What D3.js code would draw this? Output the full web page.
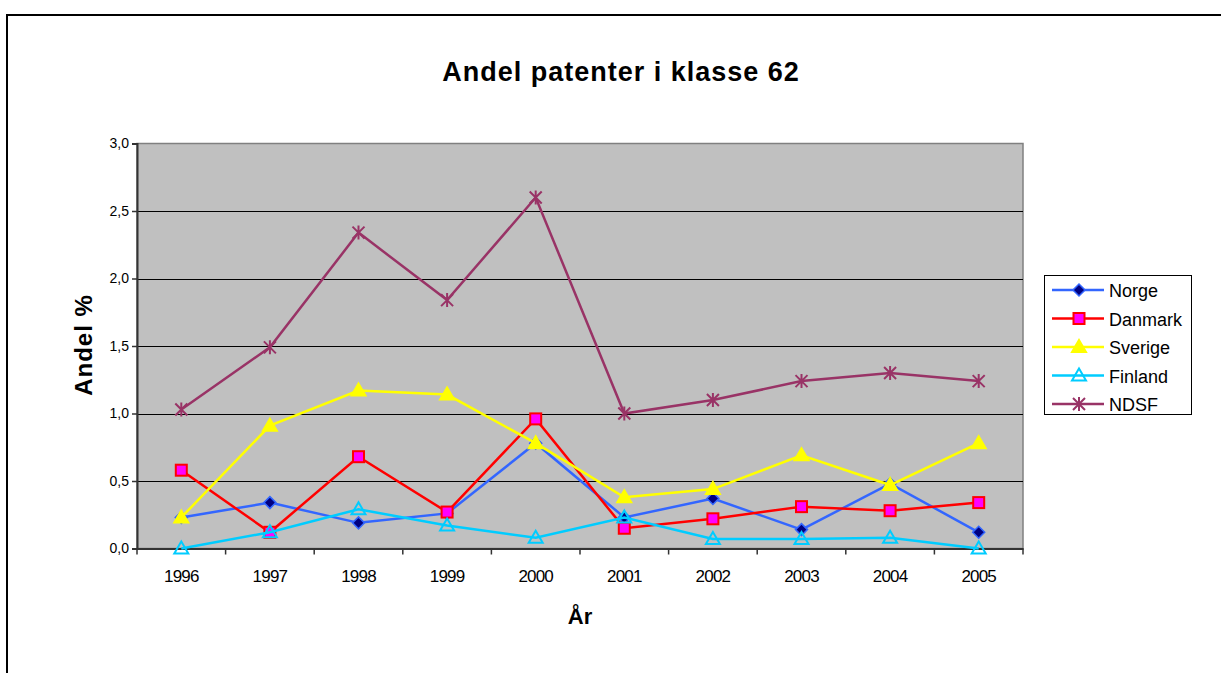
<!DOCTYPE html>
<html lang="no">
<head>
<meta charset="UTF-8">
<script src="https://d3js.org/d3.v7.min.js"></script>
<style>
  body { margin: 0; background: #fff; font-family: Arial, "Liberation Sans", sans-serif; }
  svg { display: block; }
</style>
</head>
<body>
<svg width="1221" height="673"></svg>
<script>
const years = ["1996","1997","1998","1999","2000","2001","2002","2003","2004","2005"];
const norge   = [0.23, 0.34, 0.19, 0.26, 0.78, 0.23, 0.37, 0.14, 0.48, 0.12];
const danmark = [0.58, 0.12, 0.68, 0.27, 0.96, 0.15, 0.22, 0.31, 0.28, 0.34];
const sverige = [0.23, 0.91, 1.17, 1.14, 0.78, 0.38, 0.44, 0.69, 0.47, 0.78];
const finland = [0.00, 0.12, 0.29, 0.17, 0.08, 0.23, 0.07, 0.07, 0.08, 0.00];
const ndsf    = [1.03, 1.49, 2.34, 1.84, 2.60, 1.00, 1.10, 1.24, 1.30, 1.24];
const yTicks  = [0, 0.5, 1.0, 1.5, 2.0, 2.5, 3.0];

const series = [
  { name: "Norge",   values: norge,   line: "#3366FF", marker: "diamond",  fill: "#000080", stroke: "#3366FF" },
  { name: "Danmark", values: danmark, line: "#FF0000", marker: "square",   fill: "#FF00FF", stroke: "#FF0000" },
  { name: "Sverige", values: sverige, line: "#FFFF00", marker: "triangle", fill: "#FFFF00", stroke: "#FFFF00" },
  { name: "Finland", values: finland, line: "#00CCFF", marker: "triangle", fill: "none",    stroke: "#00CCFF" },
  { name: "NDSF",    values: ndsf,    line: "#993366", marker: "star",     fill: "none",    stroke: "#993366" }
];

const svg = d3.select("svg");

// outer chart frame
svg.append("rect").attr("x", 7).attr("y", 15).attr("width", 1300).attr("height", 700)
  .attr("fill", "none").attr("stroke", "#000").attr("stroke-width", 2);

const plot = { left: 137, top: 143.5, right: 1023, bottom: 548.5 };

const x = d3.scaleBand().domain(years).range([plot.left, plot.right]);
const y = d3.scaleLinear().domain([0, 3]).range([plot.bottom, plot.top]);

svg.append("rect")
  .attr("x", plot.left).attr("y", plot.top)
  .attr("width", plot.right - plot.left).attr("height", plot.bottom - plot.top)
  .attr("fill", "#C0C0C0").attr("stroke", "#808080").attr("stroke-width", 1.5);

// gridlines
svg.append("g").selectAll("line").data(yTicks.filter(d => d > 0 && d < 3)).join("line")
  .attr("x1", plot.left).attr("x2", plot.right)
  .attr("y1", d => Math.round(y(d)) + 0.5).attr("y2", d => Math.round(y(d)) + 0.5)
  .attr("stroke", "#000").attr("stroke-width", 1);

// y axis
const yAxis = svg.append("g").attr("transform", `translate(${plot.left},0)`)
  .call(d3.axisLeft(y).tickValues(yTicks).tickSize(5).tickPadding(3)
    .tickFormat(d => d3.format(".1f")(d).replace(".", ",")));
yAxis.select(".domain").attr("stroke", "#333").attr("stroke-width", 2);
yAxis.selectAll(".tick line").attr("stroke", "#333").attr("stroke-width", 1.5);
yAxis.selectAll("text").attr("font-size", 14).attr("font-family", "Arial, sans-serif").attr("fill", "#000");

// x axis
const xAxis = svg.append("g").attr("transform", `translate(0,${plot.bottom})`)
  .call(d3.axisBottom(x).tickSize(0).tickPadding(21));
xAxis.select(".domain").attr("stroke", "#333").attr("stroke-width", 2);
xAxis.selectAll("text").attr("font-size", 17).attr("letter-spacing", "-0.8px")
  .attr("font-family", "Arial, sans-serif").attr("fill", "#000");
svg.append("g").selectAll("line").data(years.concat(["end"])).join("line")
  .attr("x1", (d, i) => plot.left + i * x.step()).attr("x2", (d, i) => plot.left + i * x.step())
  .attr("y1", plot.bottom).attr("y2", plot.bottom + 6)
  .attr("stroke", "#333").attr("stroke-width", 1.5);

// titles
svg.append("text").attr("x", 621).attr("y", 81).attr("text-anchor", "middle")
  .attr("font-size", 27).attr("font-weight", "bold").attr("letter-spacing", "1px")
  .text("Andel patenter i klasse 62");
svg.append("text").attr("x", 580).attr("y", 624).attr("text-anchor", "middle")
  .attr("font-size", 22).attr("font-weight", "bold").text("År");
svg.append("text").attr("transform", "translate(92,345) rotate(-90)").attr("text-anchor", "middle")
  .attr("font-size", 24).attr("font-weight", "bold").attr("letter-spacing", "1px").text("Andel %");

function drawMarker(g, s, cx, cy) {
  if (s.marker === "diamond") {
    g.append("path").attr("d", `M${cx},${cy - 6}L${cx + 6},${cy}L${cx},${cy + 6}L${cx - 6},${cy}Z`)
      .attr("fill", s.fill).attr("stroke", s.stroke).attr("stroke-width", 1.5);
  } else if (s.marker === "square") {
    g.append("rect").attr("x", cx - 5.5).attr("y", cy - 5.5).attr("width", 11).attr("height", 11)
      .attr("fill", s.fill).attr("stroke", s.stroke).attr("stroke-width", 2);
  } else if (s.marker === "triangle") {
    g.append("path").attr("d", `M${cx},${cy - 7}L${cx + 7},${cy + 5}L${cx - 7},${cy + 5}Z`)
      .attr("fill", s.fill).attr("stroke", s.stroke).attr("stroke-width", 2);
  } else {
    g.append("path")
      .attr("d", `M${cx - 6},${cy - 6}L${cx + 6},${cy + 6}M${cx + 6},${cy - 6}L${cx - 6},${cy + 6}M${cx},${cy - 7}L${cx},${cy + 7}`)
      .attr("fill", "none").attr("stroke", s.stroke).attr("stroke-width", 2);
  }
}

const line = d3.line().x((d, i) => x(years[i]) + x.bandwidth() / 2).y(d => y(d));

series.forEach(s => {
  const g = svg.append("g");
  g.append("path").datum(s.values).attr("d", line)
    .attr("fill", "none").attr("stroke", s.line).attr("stroke-width", 2.5);
  s.values.forEach((v, i) => drawMarker(g, s, x(years[i]) + x.bandwidth() / 2, y(v)));
});

// legend
const legend = svg.append("g");
legend.append("rect").attr("x", 1044.5).attr("y", 275.5).attr("width", 147).attr("height", 139)
  .attr("fill", "#fff").attr("stroke", "#000").attr("stroke-width", 1);
series.forEach((s, i) => {
  const ly = 290 + i * 28.5;
  legend.append("line").attr("x1", 1052).attr("x2", 1104).attr("y1", ly).attr("y2", ly)
    .attr("stroke", s.line).attr("stroke-width", 2.5);
  drawMarker(legend, s, 1079, ly);
  legend.append("text").attr("x", 1109).attr("y", ly + 7).attr("font-size", 18)
    .text(s.name);
});
</script>
</body>
</html>
